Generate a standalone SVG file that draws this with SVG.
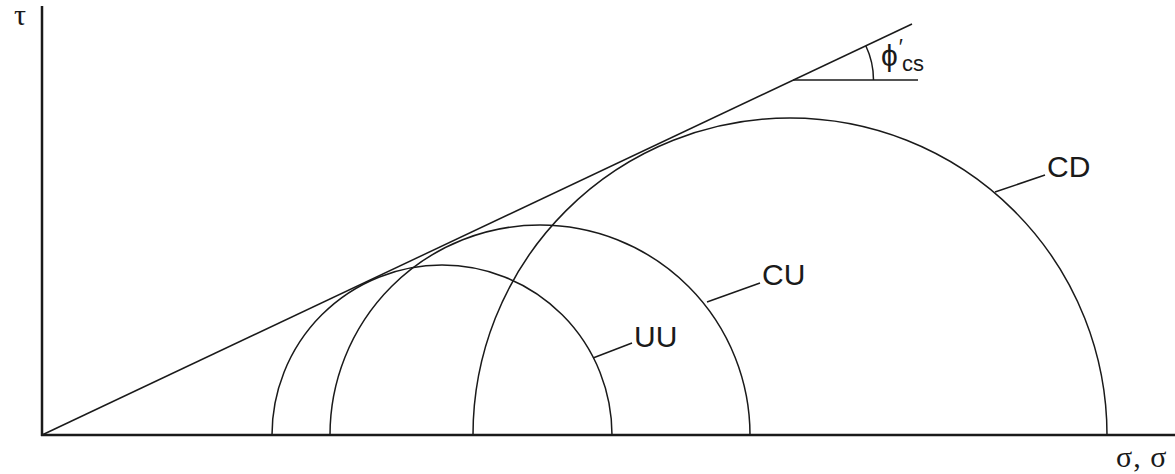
<svg xmlns="http://www.w3.org/2000/svg" width="1175" height="474" viewBox="0 0 1175 474">
<style>
.ax{stroke:#1a1a1a;stroke-width:2.5;fill:none}
.ln{stroke:#1a1a1a;stroke-width:1.5;fill:none}
.lbl{font-family:"Liberation Sans",Arial,sans-serif;font-size:30px;fill:#1a1a1a}
.ser{font-family:"Liberation Serif","Times New Roman",serif;font-size:30px;fill:#1a1a1a}
</style>
<rect width="1175" height="474" fill="#ffffff"/>
<g id="axes">
<line class="ax" x1="42" y1="6" x2="42" y2="436"/>
<line class="ax" x1="41" y1="435" x2="1175" y2="435"/>
<text class="ser" x="14" y="25">τ</text>
<text class="ser" x="1116" y="467" letter-spacing="1">σ, σ</text>
</g>
<g id="envelope">
<line class="ln" x1="42" y1="435" x2="912" y2="24"/>
<line class="ln" x1="793" y1="80" x2="918" y2="80"/>
<path class="ln" d="M865.8,45.8 A80,80 0 0 1 873.5,80"/>
<text class="lbl" x="881" y="66" font-size="30">ϕ<tspan font-size="22" dx="1" dy="-12">′</tspan><tspan font-size="22" dx="-1" dy="17">cs</tspan></text>
</g>
<g id="UU">
<path class="ln" d="M272,435 A170,170 0 0 1 612,435"/>
<text class="lbl" x="634" y="347">UU</text>
</g>
<g id="CU">
<path class="ln" d="M330,435 A210,210 0 0 1 750,435"/>
<text class="lbl" x="762" y="285">CU</text>
</g>
<g id="CD">
<path class="ln" d="M473,435 A317,317 0 0 1 1107,435"/>
<text class="lbl" x="1047" y="177">CD</text>
</g>
<g id="connectors">
<line class="ln" x1="593" y1="358" x2="632" y2="343"/>
<line class="ln" x1="707" y1="302" x2="760" y2="283"/>
<line class="ln" x1="995" y1="192" x2="1045" y2="175"/>
</g>
</svg>
